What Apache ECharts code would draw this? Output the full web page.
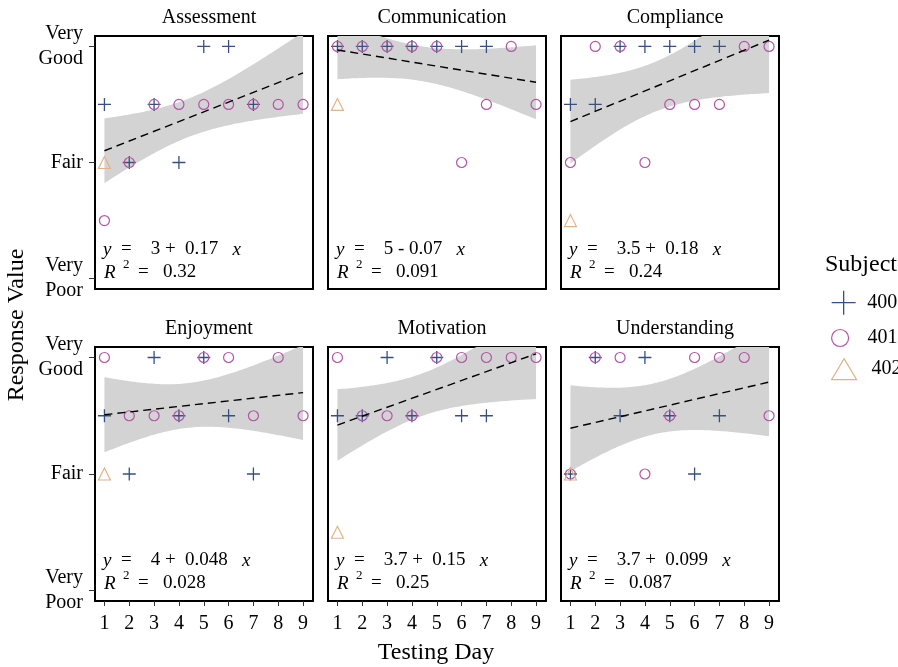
<!DOCTYPE html>
<html>
<head>
<meta charset="utf-8">
<script src="https://cdn.jsdelivr.net/npm/echarts/dist/echarts.min.js"></script>
<style>html,body{margin:0;padding:0;background:#fff;}#c{width:898px;height:667px;}</style>
</head>
<body>
<div id="c"></div>
<script>
// ---------------- data ----------------
const panelNames = ['Assessment', 'Communication', 'Compliance', 'Enjoyment', 'Motivation', 'Understanding'];
const subjects = ['400', '401', '402'];
const days400 = [1, 2, 3, 4, 5, 6, 7];
const days401 = [1, 2, 3, 4, 5, 6, 7, 8, 9];
const days402 = [1];

const assessment400 = [4, 3, 4, 3, 5, 5, 4];
const assessment401 = [2, 3, 4, 4, 4, 4, 4, 4, 4];
const assessment402 = [3];
const communication400 = [5, 5, 5, 5, 5, 5, 5];
const communication401 = [5, 5, 5, 5, 5, 3, 4, 5, 4];
const communication402 = [4];
const compliance400 = [4, 4, 5, 5, 5, 5, 5];
const compliance401 = [3, 5, 5, 3, 4, 4, 4, 5, 5];
const compliance402 = [2];
const enjoyment400 = [4, 3, 5, 4, 5, 4, 3];
const enjoyment401 = [5, 4, 4, 4, 5, 5, 4, 5, 4];
const enjoyment402 = [3];
const motivation400 = [4, 4, 5, 4, 5, 4, 4];
const motivation401 = [5, 4, 4, 4, 5, 5, 5, 5, 5];
const motivation402 = [2];
const understanding400 = [3, 5, 4, 5, 4, 3, 4];
const understanding401 = [3, 5, 5, 3, 4, 5, 5, 5, 4];
const understanding402 = [3];

const eqIntercepts = ['3', '5', '3.5', '4', '3.7', '3.7'];
const eqSlopes = ['+  0.17', '- 0.07', '+  0.18', '+  0.048', '+  0.15', '+  0.099'];
const eqR2 = ['0.32', '0.091', '0.24', '0.028', '0.25', '0.087'];

const xTickValues = [1, 2, 3, 4, 5, 6, 7, 8, 9];
const yTickValues = [1, 3, 5];
const yTickLabels = ['Very\nPoor', 'Fair', 'Very\nGood'];
const xTitle = 'Testing Day';
const yTitle = 'Response Value';
const legendTitle = 'Subject';

// ---------------- assemble ----------------
const values400 = [assessment400, communication400, compliance400, enjoyment400, motivation400, understanding400];
const values401 = [assessment401, communication401, compliance401, enjoyment401, motivation401, understanding401];
const values402 = [assessment402, communication402, compliance402, enjoyment402, motivation402, understanding402];

const T975_DF15 = 2.1314; // Student t quantile (0.975, df = 15) for the 95% confidence band

function fitLinear(xs, ys) {
  const n = xs.length;
  const mx = xs.reduce((a, b) => a + b, 0) / n;
  const my = ys.reduce((a, b) => a + b, 0) / n;
  let sxx = 0, sxy = 0, syy = 0;
  for (let i = 0; i < n; i++) {
    sxx += (xs[i] - mx) ** 2; sxy += (xs[i] - mx) * (ys[i] - my); syy += (ys[i] - my) ** 2;
  }
  const b = sxy / sxx, a = my - b * mx;
  const s = Math.sqrt((syy - b * sxy) / (n - 2));
  return { n, mx, sxx, a, b, s };
}

const FONT = '"Liberation Serif", "Times New Roman", serif';
const C400 = '#36507F', C401 = '#B355A6', C402 = '#E0B488', BAND = '#D3D3D3';
const plusPath = 'path://M0,5L10,5M5,0L5,10';

const colLeft = [95, 328, 561], rowTop = [36, 347], W = 218, H = [253, 254];
const XMIN = 0.62, XMAX = 9.4, YMIN = 0.82, YMAX = 5.18;

const grids = [], xAxes = [], yAxes = [], series = [], titles = [], graphics = [];

panelNames.forEach((name, p) => {
  const col = p % 3, row = Math.floor(p / 3);
  const left = colLeft[col], top = rowTop[row], h = H[row];
  grids.push({ left, top, width: W, height: h, show: true, borderColor: '#000', borderWidth: 2, backgroundColor: '#fff', containLabel: false });
  const bottomRow = row === 1, leftCol = col === 0;
  xAxes.push({
    gridIndex: p, type: 'value', min: XMIN, max: XMAX,
    axisLine: { show: false }, splitLine: { show: false },
    axisTick: { show: bottomRow, customValues: xTickValues, length: 5, lineStyle: { color: '#333', width: 1 } },
    axisLabel: { show: bottomRow, customValues: xTickValues, margin: 13, fontFamily: FONT, fontSize: 20, color: '#000' }
  });
  yAxes.push({
    gridIndex: p, type: 'value', min: YMIN, max: YMAX,
    axisLine: { show: false }, splitLine: { show: false },
    axisTick: { show: leftCol, customValues: yTickValues, length: 6, lineStyle: { color: '#333', width: 1 } },
    axisLabel: {
      show: leftCol, customValues: yTickValues, margin: 12, fontFamily: FONT, fontSize: 20, color: '#000', lineHeight: 25,
      padding: [6, 0, 0, 0],
      formatter: v => yTickLabels[yTickValues.indexOf(v)]
    }
  });

  const pts400 = days400.map((d, k) => [d, values400[p][k]]);
  const pts401 = days401.map((d, k) => [d, values401[p][k]]);
  const pts402 = days402.map((d, k) => [d, values402[p][k]]);
  const all = pts400.concat(pts401, pts402);
  const f = fitLinear(all.map(q => q[0]), all.map(q => q[1]));
  const upper = [], lower = [];
  for (let k = 0; k <= 80; k++) {
    const x = 1 + k * 0.1;
    const yh = f.a + f.b * x;
    const hw = T975_DF15 * f.s * Math.sqrt(1 / f.n + (x - f.mx) ** 2 / f.sxx);
    upper.push([x, yh + hw]); lower.push([x, yh - hw]);
  }
  const ring = upper.concat(lower.slice().reverse());

  series.push({
    type: 'custom', xAxisIndex: p, yAxisIndex: p, silent: true, z: 1,
    data: [[1, 1]],
    renderItem: (params, api) => {
      const pts = ring.map(q => api.coord(q));
      const cs = params.coordSys;
      const clipped = echarts.graphic.clipPointsByRect(pts, { x: cs.x, y: cs.y, width: cs.width, height: cs.height });
      return { type: 'polygon', shape: { points: clipped }, style: { fill: BAND } };
    }
  });
  series.push({
    name: '400', type: 'scatter', xAxisIndex: p, yAxisIndex: p, z: 3,
    symbol: plusPath, symbolSize: 13, data: pts400,
    itemStyle: { color: 'transparent', borderColor: C400, borderWidth: 1.3, opacity: 1 }
  });
  series.push({
    name: '401', type: 'scatter', xAxisIndex: p, yAxisIndex: p, z: 3,
    symbol: 'circle', symbolSize: 10, data: pts401,
    itemStyle: { color: 'transparent', borderColor: C401, borderWidth: 1.2, opacity: 1 }
  });
  series.push({
    name: '402', type: 'scatter', xAxisIndex: p, yAxisIndex: p, z: 3,
    symbol: 'triangle', symbolSize: 12, data: pts402,
    itemStyle: { color: 'transparent', borderColor: C402, borderWidth: 1.2, opacity: 1 }
  });
  series.push({
    type: 'line', xAxisIndex: p, yAxisIndex: p, z: 4, silent: true,
    symbol: 'none', data: [[1, f.a + f.b * 1], [9, f.a + f.b * 9]],
    lineStyle: { color: '#000', width: 1.4, type: [8, 5] }
  });

  titles.push({
    text: name, left: left + W / 2, top: top - 33, textAlign: 'center',
    textStyle: { fontFamily: FONT, fontSize: 20, fontWeight: 'normal', color: '#000' }
  });

  const x0 = left + 8;
  graphics.push({
    type: 'text', left: x0, top: top + 204, silent: true,
    style: {
      text: '{i|y}{n|  =    ' + eqIntercepts[p] + ' ' + eqSlopes[p] + '   }{i|x}',
      rich: {
        i: { fontFamily: FONT, fontSize: 19, fontStyle: 'italic', fill: '#000' },
        n: { fontFamily: FONT, fontSize: 19, fill: '#000' }
      }
    }
  });
  graphics.push({
    type: 'text', left: x0 + 1, top: top + 227, silent: true,
    style: { text: 'R', font: 'italic 19px ' + FONT, fill: '#000' }
  });
  graphics.push({
    type: 'text', left: x0 + 20, top: top + 222, silent: true,
    style: { text: '2', font: '13px ' + FONT, fill: '#000' }
  });
  graphics.push({
    type: 'text', left: x0 + 35, top: top + 227, silent: true,
    style: { text: '=   ' + eqR2[p], font: '19px ' + FONT, fill: '#000' }
  });
});

titles.push({
  text: legendTitle, left: 820, top: 248,
  textStyle: { fontFamily: FONT, fontSize: 24, fontWeight: 'normal', color: '#000' }
});

graphics.push({
  type: 'text', x: 436, y: 653, silent: true,
  style: { text: xTitle, font: '24px ' + FONT, fill: '#000', align: 'center', verticalAlign: 'middle' }
});
graphics.push({
  type: 'text', x: 17, y: 325, rotation: Math.PI / 2, silent: true,
  style: { text: yTitle, font: '24px ' + FONT, fill: '#000', align: 'center', verticalAlign: 'middle' }
});

const legendSpec = [
  { name: '400', icon: plusPath, w: 25, h: 24, top: 290, color: C400, bw: 1.3, pad: 6 },
  { name: '401', icon: 'circle', w: 25, h: 17, top: 328, color: C401, bw: 1.2, pad: 10 },
  { name: '402', icon: 'triangle', w: 25, h: 21, top: 358, color: C402, bw: 1.2, pad: 10 }
];
const legends = legendSpec.map(L => ({
  left: 826, top: L.top - 5, orient: 'vertical', itemWidth: L.w, itemHeight: L.h,
  data: [{ name: L.name, icon: L.icon, itemStyle: { color: 'transparent', borderColor: L.color, borderWidth: L.bw } }],
  textStyle: { fontFamily: FONT, fontSize: 20, color: '#000', padding: [0, 0, 0, L.pad] }
}));

const chart = echarts.init(document.getElementById('c'), null, { renderer: 'canvas' });
chart.setOption({
  animation: false,
  backgroundColor: '#fff',
  title: titles,
  legend: legends,
  grid: grids,
  xAxis: xAxes,
  yAxis: yAxes,
  series: series,
  graphic: graphics
});
</script>
</body>
</html>
